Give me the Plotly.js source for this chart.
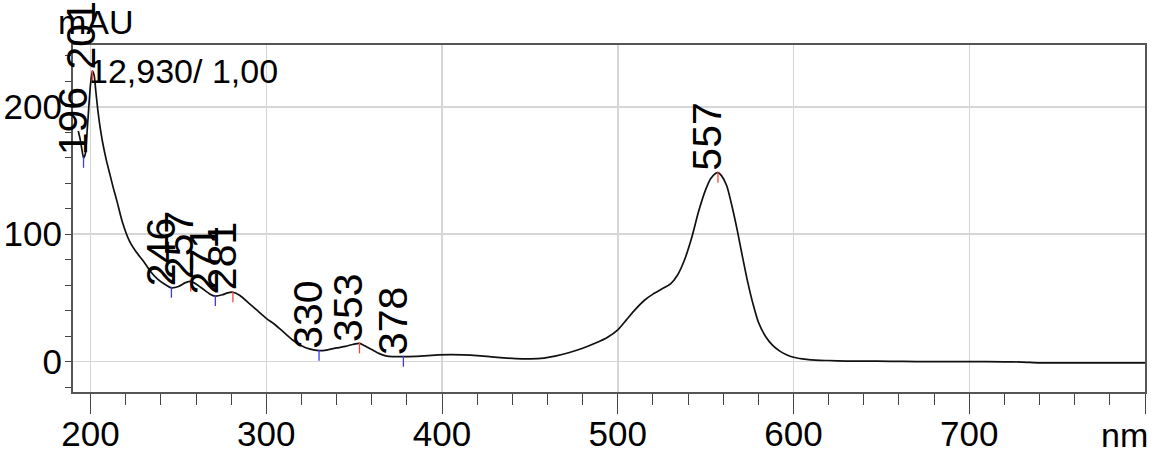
<!DOCTYPE html>
<html>
<head>
<meta charset="utf-8">
<script src="https://cdn.plot.ly/plotly-3.0.1.min.js"></script>
<style>
  html, body { margin: 0; padding: 0; background: #fff; }
  #chart { width: 1163px; height: 460px; }
</style>
</head>
<body>
<div id="chart"></div>
<script>
// Spectrum (wavelength in nm, absorbance in mAU)
const wavelength = [193,194,195,196,197,198,199,200,201,202,203,204,205,206,207,209,211,213,215,218,222,226,230,234,238,242,246,250,254,257,260,264,268,271,275,278,281,285,290,295,300,305,310,315,320,325,330,335,340,345,350,353,356,360,364,368,372,378,385,390,398,405,412,420,428,435,442,450,458,465,472,480,488,494,500,505,510,515,520,525,530,534,538,542,546,550,553,556,557,559,562,565,568,571,574,577,580,584,588,592,596,600,605,610,615,620,630,640,655,670,700,720,730,740,760,800];
const absorbance = [181,175,167,160,163,180,200,218,228,225,212,199,188,179,171,158,147,136,126,110,95,86,79,71,65,61,58,59,62,63,61,57,53,51.5,52.5,54,54.5,52,46,40,34,29,23,17,12.5,9.8,8.6,9.3,10.8,12,13.8,14.3,12.5,9.5,6.5,4.6,4.0,3.9,4.2,4.6,5.3,5.6,5.4,4.8,3.8,3,2.4,2.2,2.8,4.5,7,10.5,15,19,25,33,41,48,53,57,61,68,80,97,118,135,144,148,148.3,146,138,122,103,82,62,45,31,20,13,8.5,5.5,3.5,2.2,1.4,1.0,0.9,0.5,0.4,0.3,0.1,0,-0.1,-0.3,-0.9,-0.9,-1.0];

// Detected peaks / valleys
const peakNm   = [196, 201, 246, 257, 271, 281, 330, 353, 378, 557];
const peakVal  = [160, 228, 58, 63, 51.5, 54.5, 8.6, 14.3, 3.9, 148.3];
const peakKind = ['min','max','min','max','min','max','min','max','min','max'];

const xTickVals = [200, 300, 400, 500, 600, 700, 800];
const xTickText = ['200', '300', '400', '500', '600', '700', ''];
const yTickVals = [0, 100, 200];
const yTickText = ['0', '100', '200'];

const spectrumInfo = '12,930/ 1,00';
const yUnit = 'mAU';
const xUnit = 'nm';

const regular = '"Liberation Sans", Arial, sans-serif';

const trace = {
  x: wavelength, y: absorbance, type: 'scatter', mode: 'lines',
  line: { color: '#111', width: 1.7, shape: 'spline', smoothing: 0.6 },
  hoverinfo: 'x+y', showlegend: false
};

const shapes = peakNm.map((nm, i) => ({
  type: 'line', xref: 'x', yref: 'y',
  x0: nm, x1: nm,
  ysizemode: 'pixel', yanchor: peakVal[i], y0: 1, y1: -10,
  line: { color: peakKind[i] === 'max' ? '#ff4040' : '#3a3aff', width: 1.3 }
}));

const annotations = peakNm.map((nm, i) => ({
  x: nm, y: peakVal[i], xref: 'x', yref: 'y',
  text: String(nm), showarrow: false, textangle: -90,
  xanchor: 'right', yanchor: 'bottom', xshift: 14, yshift: 0,
  font: { family: regular, size: 41, color: '#000' }
}));

annotations.push({
  xref: 'paper', yref: 'paper', x: 0.013, y: 0.925, xanchor: 'left', yanchor: 'middle',
  text: spectrumInfo, showarrow: false,
  font: { family: regular, size: 34, color: '#000' }
});
annotations.push({
  xref: 'paper', yref: 'paper', x: -0.016, y: 1.065, xanchor: 'left', yanchor: 'middle',
  text: yUnit, showarrow: false,
  font: { family: regular, size: 34, color: '#000' }
});
annotations.push({
  xref: 'paper', yref: 'paper', x: 1.005, y: -0.125, xanchor: 'right', yanchor: 'middle',
  text: xUnit, showarrow: false,
  font: { family: regular, size: 34, color: '#000' }
});

const layout = {
  width: 1163, height: 460,
  margin: { l: 73, r: 18, t: 45, b: 68 },
  paper_bgcolor: '#fff', plot_bgcolor: '#fff',
  xaxis: {
    range: [190, 800], tickmode: 'array', tickvals: xTickVals, ticktext: xTickText,
    ticks: 'outside', ticklen: 20, tickwidth: 1, tickcolor: '#444',
    ticklabelstandoff: -10,
    minor: { tickmode: 'linear', tick0: 0, dtick: 20, ticks: 'outside', ticklen: 11, tickcolor: '#444', tickwidth: 1, showgrid: false },
    showgrid: true, gridcolor: '#d6d6d6', gridwidth: 1.5,
    showline: true, linecolor: '#555', linewidth: 2, mirror: true,
    zeroline: false,
    tickfont: { family: regular, size: 35, color: '#000' }
  },
  yaxis: {
    range: [-23.8, 248.5], tickmode: 'array', tickvals: yTickVals, ticktext: yTickText,
    ticks: 'outside', ticklen: 6, tickwidth: 1, tickcolor: '#444',
    ticklabelstandoff: -4,
    minor: { tickmode: 'linear', tick0: 0, dtick: 20, ticks: 'outside', ticklen: 6, tickcolor: '#444', tickwidth: 1, showgrid: false },
    showgrid: true, gridcolor: '#d6d6d6', gridwidth: 1.5,
    showline: true, linecolor: '#555', linewidth: 2, mirror: true,
    zeroline: false,
    tickfont: { family: regular, size: 35, color: '#000' }
  },
  shapes: shapes,
  annotations: annotations
};

Plotly.newPlot('chart', [trace], layout, { displayModeBar: false, staticPlot: true });
</script>
</body>
</html>
